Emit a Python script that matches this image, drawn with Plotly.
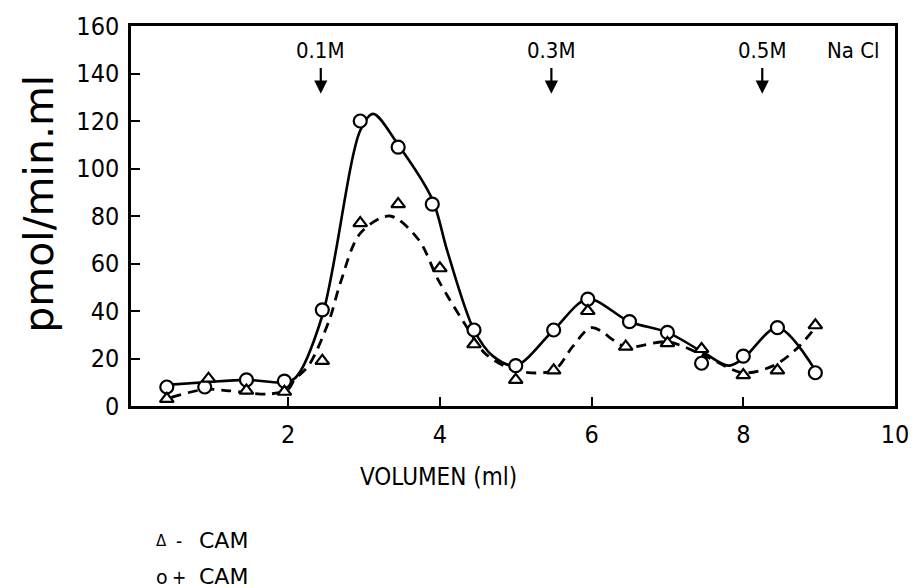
import plotly.graph_objects as go

# measured data points
vol_plus = [0.4, 0.9, 1.45, 1.95, 2.45, 2.95, 3.45, 3.9, 4.45, 5.0, 5.5, 5.95, 6.5, 7.0, 7.45, 8.0, 8.45, 8.95]
act_plus = [8, 8, 11, 10.5, 40.5, 120, 109, 85, 32, 17, 32, 45, 35.5, 31, 18, 21, 33, 14]

vol_minus = [0.4, 0.95, 1.45, 1.95, 2.45, 2.95, 3.45, 4.0, 4.45, 5.0, 5.5, 5.95, 6.45, 7.0, 7.45, 8.0, 8.45, 8.95]
act_minus = [3, 11.5, 6.5, 6, 19, 77, 85, 58, 26, 11, 15, 40, 25, 26.5, 24, 13, 15, 34]

# hand-drawn guide curves
curve_plus_x = [0.45, 0.9, 1.45, 1.95, 2.1, 2.45, 2.95, 3.12, 3.45, 3.9, 4.1, 4.45, 4.7, 5.0, 5.5, 5.95, 6.5, 7.0, 7.5, 7.8, 8.0, 8.45, 8.95]
curve_plus_y = [9, 10, 11, 10, 12, 38, 116, 123, 110, 87, 65, 32, 21, 17, 32, 45, 35.5, 31, 22, 17, 20, 33, 15]

curve_minus_x = [0.46, 0.9, 1.22, 1.73, 2.0, 2.08, 2.27, 2.54, 2.69, 2.95, 3.34, 3.72, 3.98, 4.38, 4.6, 5.0, 5.5, 5.75, 6.0, 6.45, 7.0, 7.5, 8.0, 8.4, 8.7, 8.95]
curve_minus_y = [3.6, 7, 6.4, 5, 7, 11, 17, 36, 52, 72.7, 80, 70, 53, 32, 22, 15, 15, 25, 33, 25, 27, 21, 14, 17, 24, 33]

xticks = [2, 4, 6, 8, 10]
yticks = [0, 20, 40, 60, 80, 100, 120, 140, 160]

salt_x = [2.43, 5.47, 8.25]
salt_labels = ["0.1M", "0.3M", "0.5M"]

FONT = "DejaVu Sans Condensed, DejaVu Sans, sans-serif"
FONT_WIDE = "DejaVu Sans, sans-serif"

W, H = 921, 588
L, R, T, B = 131, 17, 23, 182
pw = W - L - R
ph = H - T - B
def px(xp):
    return (xp - L) / pw
def py(yp):
    return (H - B - yp) / ph

fig = go.Figure()
fig.add_trace(go.Scatter(x=curve_plus_x, y=curve_plus_y, mode="lines",
                         line=dict(color="black", width=2.6, shape="spline", smoothing=0.9),
                         showlegend=False, hoverinfo="skip"))
fig.add_trace(go.Scatter(x=curve_minus_x, y=curve_minus_y, mode="lines",
                         line=dict(color="black", width=2.8, shape="spline", smoothing=0.9, dash="10px,7px"),
                         showlegend=False, hoverinfo="skip"))
fig.add_trace(go.Scatter(x=vol_plus, y=act_plus, mode="markers", name="+ CAM",
                         marker=dict(symbol="circle", size=13, color="white",
                                     line=dict(color="black", width=2.2)),
                         showlegend=False))
fig.add_trace(go.Scatter(x=vol_minus, y=act_minus, mode="markers", name="- CAM",
                         marker=dict(symbol="triangle-up", size=12, color="white",
                                     line=dict(color="black", width=2.2)),
                         showlegend=False))

def txt(x, y, text, size, family=FONT, xref="paper", xanchor="center", angle=0):
    return dict(x=x, y=y, xref=xref, yref="paper", text=text, showarrow=False,
                xanchor=xanchor, yanchor="middle", textangle=angle,
                font=dict(family=family, size=size, color="black"))

anns = []
for sx, lab in zip(salt_x, salt_labels):
    anns.append(dict(x=sx, y=131.5, ax=sx, ay=143, xref="x", yref="y", axref="x", ayref="y",
                     showarrow=True, arrowhead=2, arrowsize=1.2, arrowwidth=2.2, arrowcolor="black", text=""))
    anns.append(txt(sx, py(48), lab, 22, xref="x"))
anns.append(txt(9.45, py(48), "Na Cl", 22, xref="x"))

# axis titles
anns.append(txt(px(442), py(478), "VOLUMEN (ml)", 24))
anns.append(txt(px(38), py(202), "pmol/min.ml", 41, family=FONT_WIDE, angle=-90))

# legend
leg = [("Δ", "-", "CAM", 542, 15), ("o", "+", "CAM", 578, 19)]
for sym, sign, label, yy, ssz in leg:
    anns.append(txt(px(162), py(yy), sym, ssz, family=FONT_WIDE))
    anns.append(txt(px(180), py(yy), sign, 19))
    anns.append(txt(px(198), py(yy), label, 22, family=FONT_WIDE, xanchor="left"))

fig.update_layout(
    width=W, height=H,
    margin=dict(l=L, r=R, t=T, b=B),
    paper_bgcolor="white", plot_bgcolor="white",
    showlegend=False,
    annotations=anns,
    font=dict(family=FONT, color="black"),
    xaxis=dict(range=[-0.072, 10], tickvals=xticks, ticktext=[str(v) for v in xticks],
               ticks="inside", ticklen=9, tickwidth=2, tickcolor="black",
               showline=True, linecolor="black", linewidth=2.5, mirror=True,
               showgrid=False, zeroline=False, ticklabelstandoff=4,
               tickfont=dict(family=FONT, size=25, color="black")),
    yaxis=dict(range=[0, 160], tickvals=yticks,
               ticks="inside", ticklen=9, tickwidth=2, tickcolor="black",
               showline=True, linecolor="black", linewidth=2.5, mirror=True,
               showgrid=False, zeroline=False, ticklabelstandoff=4,
               tickfont=dict(family=FONT, size=25, color="black")),
)

fig.write_html("out.html")
